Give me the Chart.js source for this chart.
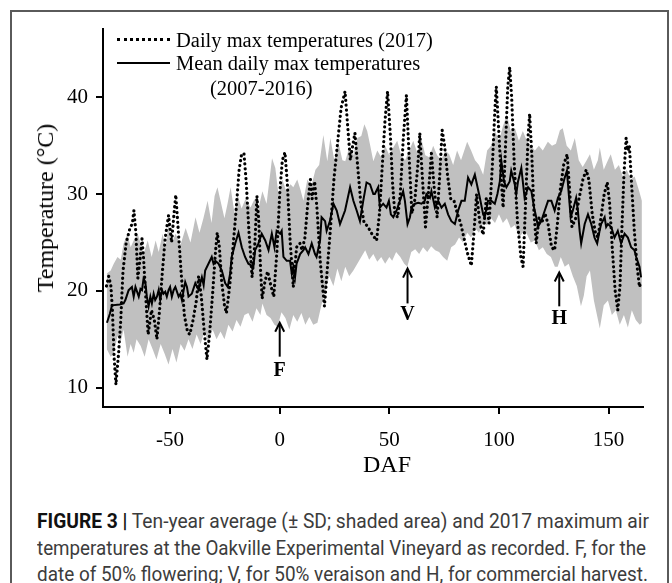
<!DOCTYPE html>
<html><head><meta charset="utf-8">
<script src="https://cdn.jsdelivr.net/npm/chart.js@4.4.1/dist/chart.umd.min.js"></script>
<style>
html,body{margin:0;padding:0;background:#fff;width:672px;height:583px;overflow:hidden;position:relative;}
#frame{position:absolute;left:10px;top:10px;width:659px;height:620px;border:2px solid #5a5a5a;box-sizing:border-box;}
#wrap{position:absolute;left:0;top:0;width:672px;height:500px;}
.serif{font-family:"Liberation Serif","Times New Roman",serif;color:#000;position:absolute;white-space:nowrap;line-height:1;}
.leg{font-size:20.5px;}
#ytitle{font-size:24px;left:45px;top:208px;transform:translate(-50%,-50%) rotate(-90deg);}
#xtitle{font-size:24px;left:387px;top:464px;transform:translate(-50%,-50%);}
.dots{position:absolute;left:117px;width:53px;height:0;border-top:3px dotted #000;}
.solid{position:absolute;left:117px;width:53px;height:2px;background:#000;}
.cap{position:absolute;left:37px;font-family:Roboto,"Liberation Sans",sans-serif;font-size:20.5px;color:#3c3c3c;white-space:nowrap;line-height:1;transform-origin:0 50%;}
.cap b{color:#111;font-weight:700;}
</style></head>
<body>
<div id="frame"></div>
<div id="wrap"><canvas id="c" width="672" height="500"></canvas></div>
<div class="dots" style="top:38px"></div>
<div class="serif leg" style="left:176px;top:30px">Daily max temperatures (2017)</div>
<div class="solid" style="top:62px"></div>
<div class="serif leg" style="left:176px;top:53px">Mean daily max temperatures</div>
<div class="serif leg" style="left:210px;top:78px">(2007-2016)</div>
<div id="ytitle" class="serif">Temperature (°C)</div>
<div id="xtitle" class="serif">DAF</div>
<div class="cap" data-w="612" style="top:511px"><b>FIGURE 3 |</b> Ten-year average (± SD; shaded area) and 2017 maximum air</div>
<div class="cap" data-w="609" style="top:538px">temperatures at the Oakville Experimental Vineyard as recorded. F, for the</div>
<div class="cap" data-w="611" style="top:564px">date of 50% flowering; V, for 50% veraison and H, for commercial harvest.</div>
<script>
// ---- data (DAF = days after flowering, temperatures in °C) ----
const xTicks = [-50, 0, 50, 100, 150];
const yTicks = [10, 20, 30, 40];

const obsDAF = [-79,-78,-77,-76.3,-75.5,-74.7,-73.5,-72.5,-71.5,-70,-68.5,-67.2,-66.5,-65.6,-64.7,-63.6,-62.8,-62,-61,-60,-58.5,-57.2,-56,-54.8,-53.5,-52.2,-50.7,-49.3,-48.2,-47.4,-46.5,-45,-43.5,-42,-41,-39.5,-38,-37,-35.8,-34.5,-33.2,-32,-30.5,-29.3,-28.5,-27.5,-26.5,-25.2,-24.3,-22.8,-21.5,-20,-18.5,-17.4,-16.3,-15.2,-14,-12.6,-11.3,-10.4,-9.5,-8.7,-8,-6.7,-5.5,-4,-2.7,-1.3,0,1.2,2.4,3.5,4.8,6.2,7.7,9.2,10.2,11.5,12.8,14,14.8,15.9,17,18.5,20.4,21.8,23,24.8,26.5,28,29.8,31,32.2,33.3,34.3,35.5,37,38.5,40,42,44.2,45.5,46.8,48,49.2,50.5,51.5,52.5,53.8,55,56.3,57.8,59,60.3,61.7,63,63.9,65,66.5,67.8,69.2,70.5,71.8,73,74.1,75.2,76.5,78,79.5,81,82.5,84,85.5,87.4,88.6,89.8,91.3,92.8,94.2,95.5,97,98.2,98.8,99.8,101.2,101.9,103,104,104.9,105.8,107,108.5,110,111,112.3,113.3,114,115,116,117,118.3,119.5,121,122.4,124,125.4,126.7,128,129.5,131.1,132.2,133.3,135,136.5,138.3,139.8,141,142.5,144,145.1,146.5,148,149.4,150.5,151.8,153,154.2,155.2,156,157,158,158.8,159.5,160.5,161.8,163,164.1,164.8];
const obsTemp = [20.5,21.5,20.5,18,13,10.3,13.5,17,22,25,26.3,27,28.3,26,21.3,23.5,25.4,23,19,15.5,18,17,15,18,22,25.5,27.8,25,28,29.9,27,22,17.5,15.7,15.5,17,19,21.5,19.5,16,12.9,15.5,20,24,26,24.5,21,18.5,17.7,20.5,24,28,32.5,34.1,34.2,31,26,21.4,25,29.8,27,22,19.2,21,22,20.5,19.4,24,30,33.5,34.3,31,25,20.4,24.5,24.9,24.2,25.5,29,31.5,29.5,31.3,28.5,23,18.4,22.5,26,31.7,35.5,38.9,40.6,37,33.5,35,36.3,33,29,27,26.7,25.9,25.2,28,33,37.5,40.6,36,31,28,27.6,30,35.5,40.2,34,28,29.5,33,36.3,32,26.6,30,34.2,30.5,27.6,32,36.6,35,32,29.5,29.3,28,27,25.5,24,22.6,26,30,27,25.8,29.5,27,33,39,41.1,37,31,28.6,35,41,43.1,40,33,27,23.5,22.5,30,36,38.3,34,28,24.9,27.6,27,28,26.9,24.5,24.2,27,30.5,33,34.1,30.5,26.6,27.5,29.5,31.5,32.5,31.5,28,26,25.5,27.5,30,31.2,29,24,20,18,20.5,26,32,35.8,34.5,35,31,26,22.5,20.4,21];

const meanDAF = [-78.8,-77.5,-76.5,-73,-71.2,-70.4,-68.9,-67.4,-66.6,-65.8,-64.3,-63.5,-62.8,-62.1,-61.3,-60.6,-59.8,-59,-58.3,-57.5,-56.8,-56,-55.2,-54.5,-53.7,-53,-52.2,-51.5,-50.7,-50,-49.2,-48.4,-47.6,-46.1,-45.3,-44.6,-43.8,-43.1,-42.3,-41.6,-40.1,-38.5,-37,-35.5,-34.7,-34,-32.5,-31,-30.2,-29.4,-27.9,-26.4,-24.9,-23.7,-22.6,-21.9,-20.3,-18.8,-17.3,-15.8,-14.3,-12,-11.2,-9.7,-8.2,-6.6,-5.1,-3.6,-2.4,-1.4,0.2,0.9,1.7,3.2,4.7,5.5,6.2,7,7.7,9.3,10.8,11.6,13.1,14.6,16.1,16.8,18.4,19.1,20.7,21.4,22.9,24.5,26,27.5,29.8,32.1,33.6,35.1,36.6,38.1,39.6,41.2,42.7,43.4,44.9,45.7,47.2,48.7,49.8,50.7,51.8,53.3,54.8,56.3,57.1,58.3,59.4,60.1,61.7,63.2,64.7,66.2,66.9,68.5,69.2,70.8,72.3,73.8,75.3,76.8,78.3,79.9,81.4,82.9,84.4,85.9,87.4,89,91.3,92.8,93.5,95,96.5,98.1,99.3,100.4,101.1,102.3,103.4,104.9,105.6,107.2,107.9,108.7,110.2,111.7,113.3,114.8,116,117,117.8,119.3,120.9,122.4,123.9,125.4,126.9,128.4,130,131,132.7,133.7,134.5,135.2,136,136.8,137.5,139.1,140.6,142.1,143.6,144.8,145.9,146.6,148.2,148.9,149.7,151.2,152.7,154.2,155.7,157.3,158.8,160.3,161.8,162.6,164.1,164.8];
const meanTemp = [16.7,17.6,18.5,18.6,18.7,19.05,20.07,20.4,19.4,20.4,19.4,20.2,20.07,21.27,20.9,19.4,18.4,19.4,18.7,19.7,19.05,19.4,20.1,19.05,20.07,19.7,19.9,19.4,20.07,20.4,19.4,20.07,20.4,19.4,19.7,19.05,20.07,20.9,20.4,19.4,19.7,20.8,20.1,21.4,20.6,22.1,22.8,23.5,22.8,23.1,22.8,22.1,20.8,20.4,21.8,23.5,24.9,26,24.5,23.5,22.8,22.5,24.2,24.9,25.9,25.2,24.2,25.9,24.5,26.2,25.9,26.2,23.5,23.1,23.1,21.8,22.5,21.4,22.8,23.8,24.2,24.5,23.8,24.9,23.8,23.5,25.2,27.6,27.2,26.2,27.2,29,28.3,26.9,28.3,30.7,29.3,28.3,27.2,29.3,31.2,31,30,30,30.7,28.6,29,28.6,29.3,27.9,27.6,28.3,29.3,30.3,29.3,26.9,27.6,28.6,29,29.1,29,29.3,30,29.6,30.3,28.6,29.3,28.6,29,27.9,27.2,26.9,28.3,29.3,29.3,31.7,31,32,29.6,27.9,27.6,29.3,29.3,29,30,31.3,33.4,31.3,30.7,31.3,32.4,31,30,31.3,32.7,29.6,30.7,30.3,28.6,27.6,26.6,27.2,28.3,29.3,29.3,28.3,29.6,30.3,31.7,32.4,27.6,28.3,29,29.6,28.3,26.2,24.9,26.9,27.9,26.9,25.5,24.9,26.2,26.9,27.6,26.6,26.9,26.6,25.5,26.2,24.9,25.9,25.5,24.5,24.2,23.5,22.5,21.4];

const sdHighDAF = [-78.9,-77.1,-75.7,-74,-72.5,-71.2,-69.4,-68,-66.6,-64.8,-63.4,-62.1,-60.2,-58.4,-56.6,-55.2,-53.4,-52.1,-50.7,-49.3,-47.5,-45.2,-42.9,-40.7,-38.4,-36.6,-34.8,-32.9,-31.1,-29.7,-28.4,-27,-25.2,-23.8,-22.4,-20.6,-19.3,-17.4,-15.6,-13.3,-11.5,-9.7,-7.9,-6,-3.5,-2,-0.6,1.2,3,4.9,6.2,8,9.4,10.8,12.6,14.4,16.3,18,19.9,21.7,23.1,24.9,26.7,28.6,29.9,31.7,33.6,35.4,37.2,38.6,39.9,41.3,42.7,44.5,46.3,48.1,50,51.8,53.6,55.4,57.2,59.1,60.9,62.7,64.5,66.4,68.2,70,71.8,73.6,75.5,77.3,79.1,80.9,82.7,85.5,87.3,89.1,90.9,92.8,94.6,96.4,98.2,100,101.8,103.6,105.4,107.3,109.1,110.9,112.7,114.5,116.4,118.2,120,122.3,124.2,126,127.8,129.1,130.9,132.8,134.6,136.4,138.2,140,141.5,143.3,145.1,146,147.8,149.7,151,152.9,154.7,156.5,158.3,160.1,161.9,163.7,165.2];
const sdHigh = [21.8,22.1,22.8,23.5,23.2,24.9,25.9,24.5,25.2,25.9,24.9,23.8,25.2,23.5,25.2,24,25.9,24.5,26.9,24.9,25.9,24.8,26.5,25,27.6,26,27.5,29.3,27,29.8,30.7,29.3,27.5,29,30.7,28,30,28.5,29.5,28.6,29.5,28.5,30.3,29,33.7,32.7,30,31.5,30.3,31,30.7,31.5,30.5,29.3,31.5,30.8,32.5,33,36.1,33.4,35.8,33.5,35.4,33.5,33.4,34.8,34,35.8,36,37.2,36.5,35,33.4,34.5,33.8,35,34,34.8,35.5,34,33.5,34.5,35.5,34.3,35.8,34,33.8,35,34,33.5,34.5,34.1,33,34.5,33.5,35.4,34.5,33.5,33,32,34.5,35,36.5,35.5,37,38.2,36.5,36.8,35.5,36.5,35.5,35,34.5,35,34.5,35.4,35,35.2,36.6,36.8,35,34.5,35.8,33.5,32.8,33.5,34.1,32.5,33.5,34.8,32.5,33.5,34.1,32.5,33,31.8,32.5,31.5,31.8,30.5,29.3];

const sdLowDAF = [-78.9,-77.1,-75.7,-74,-72.5,-71.2,-69.4,-68,-66.6,-65.3,-63.4,-61.6,-59.8,-58,-56.2,-54.3,-52.5,-50.7,-48.9,-47.1,-45.2,-43.4,-41.6,-39.8,-37.9,-36.1,-34.3,-32.5,-30.6,-28.8,-27,-25.2,-23.4,-21.5,-19.7,-17.9,-16.1,-14.3,-12.4,-10.6,-8.8,-7.9,-6,-4.2,-2.4,-1,0.8,2.6,4.4,6.2,8,9.9,11.7,13.5,15.3,17.2,19,20.8,22.6,24.5,26.3,28.1,29.9,31.7,33.6,35.4,37.2,39,40.8,42.7,44.5,46.3,48.1,50,51.3,53.1,55,56.8,58.2,60,61.8,63.6,65.4,67.3,69.1,70.9,72.7,74.5,76.4,78.2,80,81.8,83.6,85.5,87.3,89.1,90.9,92.8,94.6,96.4,98.2,100,101.8,103.6,105.4,107.3,109.1,110.9,112.7,114.5,116.4,118.2,120,121.8,123.7,125.5,126.8,128.2,130,131.8,133.7,135.5,137.4,138.7,140,141.5,143.3,144.7,146,147.8,149.7,151.5,153.3,155.1,157,158.8,160.6,162.4,164.2,165.2];
const sdLow = [14,13.2,13.5,15.3,14.8,16,13.2,14.5,13.6,15,14.3,13.2,15,14,12.9,14.5,13.5,12.4,14,12.6,14.5,13.8,15,14,15.5,14.5,15.8,14.6,16,15,15.8,15,16.5,15.8,17,16.3,17.5,17.7,16.8,18.2,17.5,18.7,17.5,17.2,16.5,16.3,17.8,17.2,16,17.5,16.8,17.7,16.5,17.3,16.5,16.7,18.5,20,21.5,20.5,22.3,21,22.5,21.5,22.1,22.8,23.5,24.2,23.2,23.8,23,23.5,22.8,23.5,23.1,24,23.5,22.8,22.5,24,24.3,23.8,24.5,24,24.6,24.2,24,23.5,23.1,24.5,24.8,25.5,25,26,25.5,26.5,26,27,26.8,27.5,27,27.9,27,27.5,26.5,26.8,25.5,26,25.9,25,25.2,24.2,24.5,23.8,23.5,22.5,22.5,23.5,22.5,22.8,21.5,20.5,18.4,19.5,21.5,22.1,19,17.5,16.1,18.5,19,17.5,18,16.5,17.5,16.2,18,17,16.5,16.7];

// phenology markers (F = 50% flowering, V = 50% veraison, H = harvest)
const markerLabels = ['F', 'V', 'H'];
const markerDAF = [0, 58.3, 127.5];
const markerTipTemp = [16.7, 22.3, 21.9];
const markerTailTemp = [13.2, 18.7, 18.4];
const markerTextTemp = [11.7, 17.5, 17.1];

const pts = (xs, ys) => xs.map((x, i) => ({x: x, y: ys[i]}));

const arrowPlugin = {
  id: 'arrows',
  afterDatasetsDraw(chart) {
    const {ctx, scales: {x, y}} = chart;
    ctx.save();
    ctx.strokeStyle = '#000';
    ctx.fillStyle = '#000';
    ctx.lineWidth = 2;
    markerLabels.forEach((lab, i) => {
      const px = x.getPixelForValue(markerDAF[i]);
      const tip = y.getPixelForValue(markerTipTemp[i]);
      const tail = y.getPixelForValue(markerTailTemp[i]);
      ctx.beginPath();
      ctx.moveTo(px, tail); ctx.lineTo(px, tip + 1);
      ctx.stroke();
      ctx.beginPath();
      ctx.moveTo(px - 4.5, tip + 9); ctx.lineTo(px, tip); ctx.lineTo(px + 4.5, tip + 9);
      ctx.stroke();
      ctx.font = 'bold 20px "Liberation Serif", serif';
      ctx.textAlign = 'center';
      ctx.textBaseline = 'middle';
      ctx.fillText(lab, px, y.getPixelForValue(markerTextTemp[i]));
    });
    ctx.restore();
  }
};

const tickFont = {family: '"Liberation Serif", serif', size: 21};

new Chart(document.getElementById('c'), {
  type: 'line',
  data: {
    datasets: [
      {data: pts(obsDAF, obsTemp), borderColor: '#000', borderWidth: 3.2, borderDash: [0.1, 4.8], borderCapStyle: 'round', pointRadius: 0, fill: false, tension: 0, order: 0},
      {data: pts(meanDAF, meanTemp), borderColor: '#000', borderWidth: 2, pointRadius: 0, fill: false, tension: 0, order: 1},
      {data: pts(sdHighDAF, sdHigh), borderWidth: 0, borderColor: 'rgba(0,0,0,0)', pointRadius: 0, fill: false, tension: 0, order: 2},
      {data: pts(sdLowDAF, sdLow), borderWidth: 0, borderColor: 'rgba(0,0,0,0)', backgroundColor: '#c0c0c0', pointRadius: 0, fill: '-1', tension: 0, order: 3}
    ]
  },
  options: {
    responsive: false,
    animation: false,
    devicePixelRatio: 1,
    layout: {padding: {left: 0, right: 29, top: 29, bottom: 33}},
    plugins: {legend: {display: false}, tooltip: {enabled: false}},
    scales: {
      x: {
        type: 'linear', min: -80.6, max: 165.7,
        afterBuildTicks: s => { s.ticks = xTicks.map(v => ({value: v})); },
        afterFit: s => { s.height = 60; },
        ticks: {font: tickFont, color: '#000', padding: 14, maxRotation: 0, autoSkip: false},
        grid: {display: true, drawOnChartArea: false, drawTicks: true, tickLength: 7, color: '#000', lineWidth: 2},
        border: {display: true, color: '#000', width: 2}
      },
      y: {
        type: 'linear', min: 8.0, max: 47.05,
        afterBuildTicks: s => { s.ticks = yTicks.map(v => ({value: v})); },
        afterFit: s => { s.width = 103; },
        ticks: {font: tickFont, color: '#000', padding: 8, autoSkip: false},
        grid: {display: true, drawOnChartArea: false, drawTicks: true, tickLength: 7, color: '#000', lineWidth: 2},
        border: {display: true, color: '#000', width: 2}
      }
    }
  },
  plugins: [arrowPlugin]
});

// fit caption lines to their measured widths in the reference
document.querySelectorAll('.cap').forEach(el => {
  const w = el.getBoundingClientRect().width;
  const target = parseFloat(el.dataset.w);
  el.style.transform = 'scaleX(' + (target / w) + ')';
});
</script>
</body></html>
